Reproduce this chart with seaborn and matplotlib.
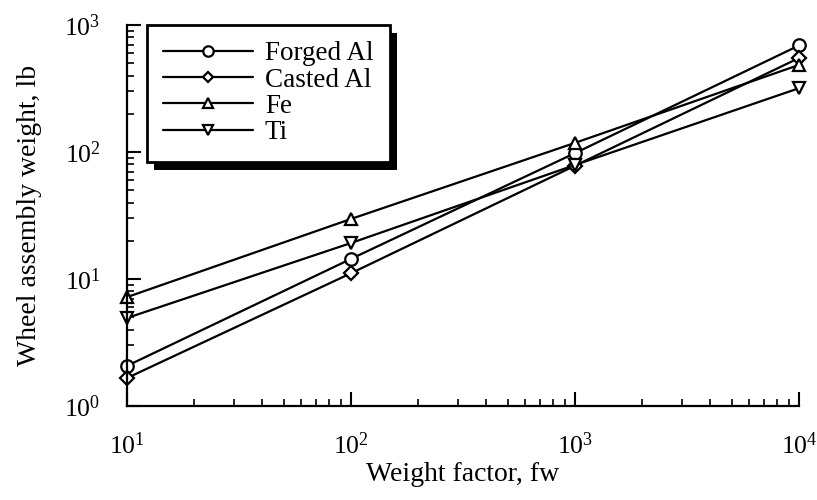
import matplotlib
matplotlib.use("Agg")
import matplotlib.pyplot as plt
from matplotlib.lines import Line2D
from matplotlib.patches import Rectangle
import seaborn as sns
import pandas as pd

# Datos
factor_peso = [10, 100, 1000, 10000]
materiales = ["Forged Al", "Casted Al", "Fe", "Ti"]
forged_al = [2.07, 14.4, 98, 690]
casted_al = [1.66, 11.1, 78, 550]
fe = [7.2, 29.7, 118, 485]
ti = [4.93, 19.2, 79, 318]
marcadores = ["o", "D", "^", "v"]
tam_marcador = [9, 7, 8, 8]

series = [forged_al, casted_al, fe, ti]
filas = []
for mat, vals in zip(materiales, series):
    for x, y in zip(factor_peso, vals):
        filas.append({"fw": x, "peso": y, "material": mat})
df = pd.DataFrame(filas)

sns.set_style("ticks")
plt.rcParams["font.family"] = ["Liberation Serif", "DejaVu Serif"]
plt.rcParams["mathtext.fontset"] = "custom"
plt.rcParams["mathtext.rm"] = "Liberation Serif"
plt.rcParams["mathtext.it"] = "Liberation Serif:italic"
for clave in ["text.color", "axes.labelcolor", "xtick.color", "ytick.color",
              "axes.edgecolor"]:
    plt.rcParams[clave] = "black"

fig = plt.figure(figsize=(8.17, 5), dpi=100)
ax = fig.add_axes([0.1554, 0.188, 0.8226, 0.762])

for mat, mk, ms in zip(materiales, marcadores, tam_marcador):
    sns.lineplot(data=df[df["material"] == mat], x="fw", y="peso", ax=ax,
                 color="black", linewidth=1.6, marker=mk, markersize=ms,
                 markerfacecolor="white", markeredgecolor="black",
                 markeredgewidth=1.6, clip_on=False, legend=False)

ax.set_xscale("log")
ax.set_yscale("log")
ax.set_xlim(10, 10000)
ax.set_ylim(1, 1000)

ax.set_xlabel("Weight factor, fw", fontsize=20, labelpad=2)
ax.set_ylabel("Wheel assembly weight, lb", fontsize=20, labelpad=16)

for s in ["top", "right"]:
    ax.spines[s].set_visible(False)
for s in ["left", "bottom"]:
    ax.spines[s].set_linewidth(1.6)

ax.tick_params(which="major", direction="in", length=10, width=1.5,
               labelsize=18.5, pad=19)
ax.tick_params(which="minor", direction="in", length=5, width=1.2)

# Leyenda
handles = [Line2D([], [], color="black", linewidth=1.6, marker=mk, markersize=ms - 1.5,
                  markerfacecolor="white", markeredgecolor="black",
                  markeredgewidth=1.6)
           for mk, ms in zip(marcadores, tam_marcador)]
leg = ax.legend(handles, materiales, loc="upper left", bbox_to_anchor=(0.03, 1.0),
                borderaxespad=0, fontsize=19.5, handlelength=3.3, labelspacing=0.05,
                handletextpad=0.45, borderpad=0.6, fancybox=False, frameon=True,
                framealpha=1, edgecolor="black")
leg.get_frame().set_linewidth(2)
leg.set_zorder(5)

# Sombra negra de la leyenda
fig.canvas.draw()
bb = leg.get_window_extent().transformed(fig.transFigure.inverted())
dx, dy = 7 / 817, -8 / 500
sombra = Rectangle((bb.x0 + dx, bb.y0 + dy), bb.width, bb.height,
                   transform=fig.transFigure, facecolor="black",
                   edgecolor="none", zorder=4, clip_on=False)
ax.add_patch(sombra)

fig.savefig("out.png", dpi=100)
